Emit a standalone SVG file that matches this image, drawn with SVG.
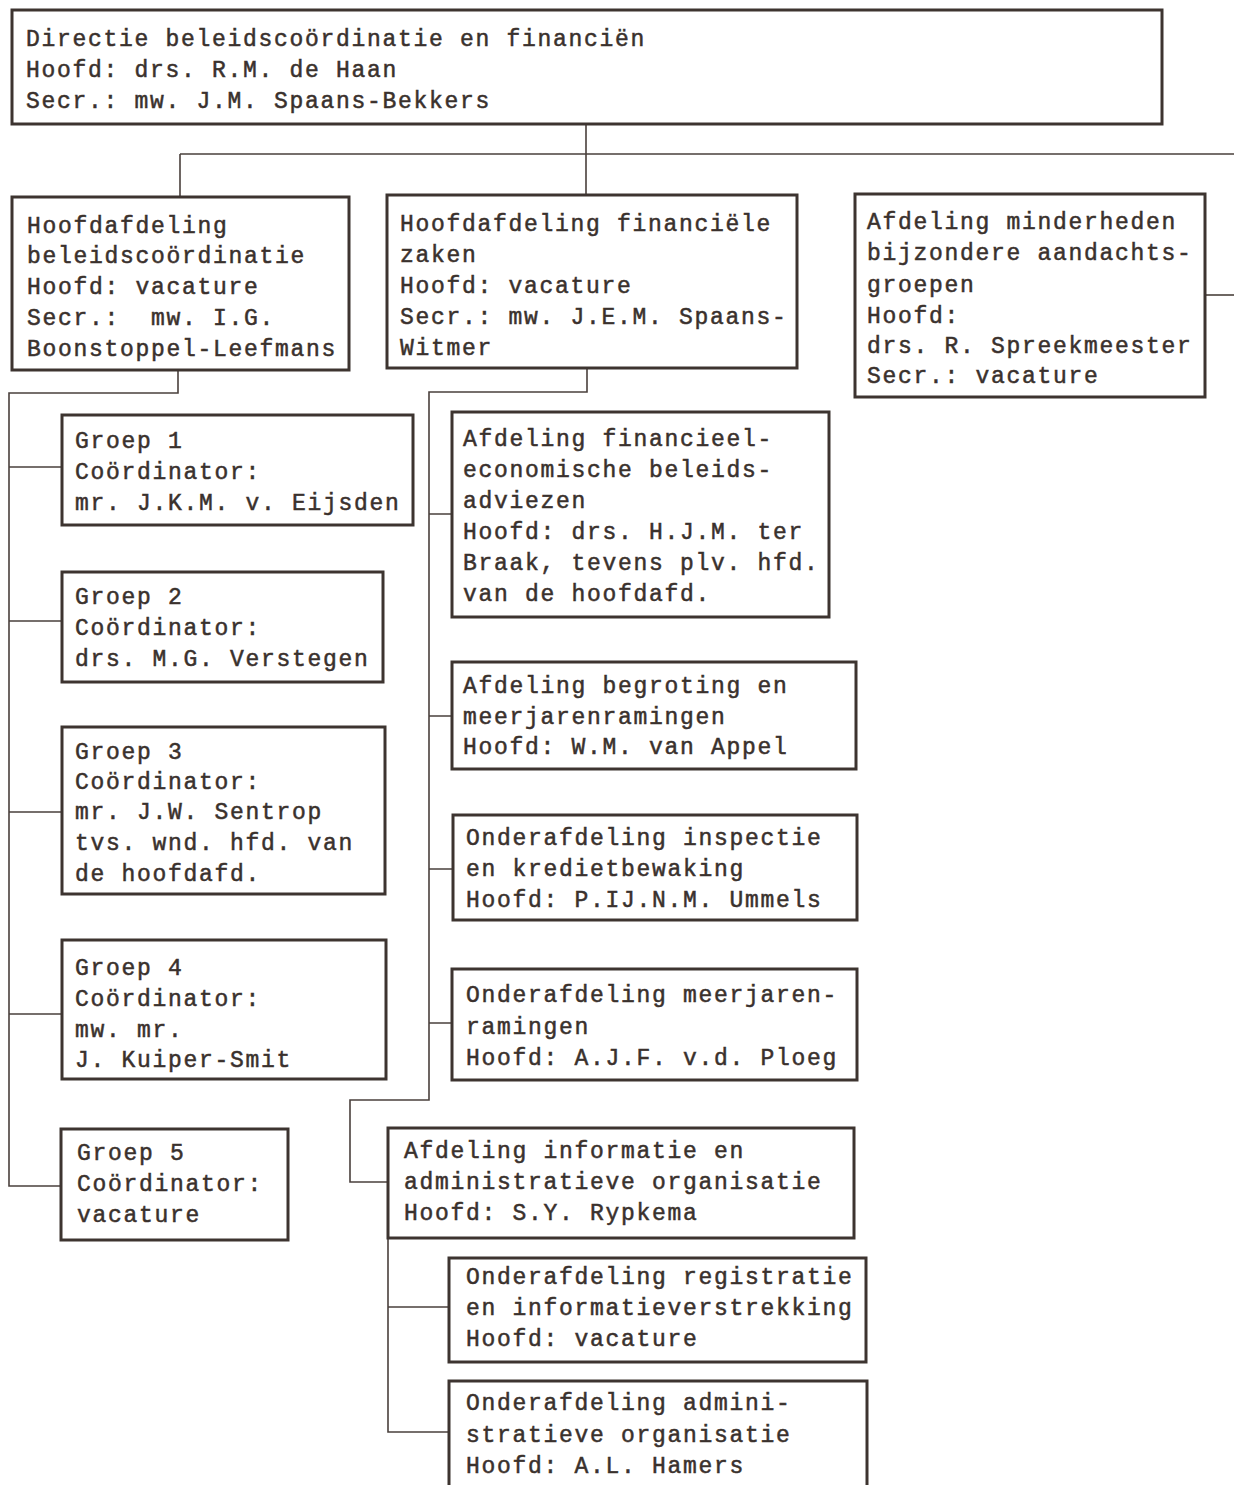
<svg xmlns="http://www.w3.org/2000/svg" width="1234" height="1485" viewBox="0 0 1234 1485">
<style>
.box{fill:#fff;stroke:#3d3430;stroke-width:3}
.t{font-family:"Liberation Mono","Courier New",monospace;font-size:23px;letter-spacing:1.7px;fill:#3a312d;stroke:#3a312d;stroke-width:0.5;white-space:pre}
.c{fill:none;stroke:#4a403c;stroke-width:1.6}
</style>
<rect width="1234" height="1485" fill="#fff"/>
<g id="connectors">
<path class="c" d="M586 124 V195 M180 154 H1234 M180 154 V197"/>
<path class="c" d="M1205 295 H1234"/>
<path class="c" d="M178 370 V393 H9 V1186 H61 M9 467 H62 M9 621 H62 M9 812 H62 M9 1014 H62"/>
<path class="c" d="M587 368 V392 H429 V1100 H350 V1182 H388 M429 514 H452 M429 716 H452 M429 869 H453 M429 1023 H452"/>
<path class="c" d="M388 1238 V1432 H449 M388 1307 H449"/>
</g>
<g id="directie">
<rect class="box" x="12" y="10" width="1150" height="114"/>
<text class="t"><tspan x="26" y="46">Directie beleidscoördinatie en financiën</tspan><tspan x="26" y="77">Hoofd: drs. R.M. de Haan</tspan><tspan x="26" y="108">Secr.: mw. J.M. Spaans-Bekkers</tspan></text>
</g>
<g id="hoofdafd-beleid">
<rect class="box" x="12" y="197" width="337" height="173"/>
<text class="t"><tspan x="27" y="233">Hoofdafdeling</tspan><tspan x="27" y="263">beleidscoördinatie</tspan><tspan x="27" y="294">Hoofd: vacature</tspan><tspan x="27" y="325">Secr.:  mw. I.G.</tspan><tspan x="27" y="356">Boonstoppel-Leefmans</tspan></text>
</g>
<g id="hoofdafd-fin">
<rect class="box" x="387" y="195" width="410" height="173"/>
<text class="t"><tspan x="400" y="231">Hoofdafdeling financiële</tspan><tspan x="400" y="262">zaken</tspan><tspan x="400" y="293">Hoofd: vacature</tspan><tspan x="400" y="324">Secr.: mw. J.E.M. Spaans-</tspan><tspan x="400" y="355">Witmer</tspan></text>
</g>
<g id="afd-minderheden">
<rect class="box" x="855" y="194" width="350" height="203"/>
<text class="t"><tspan x="867" y="229">Afdeling minderheden</tspan><tspan x="867" y="260">bijzondere aandachts-</tspan><tspan x="867" y="292">groepen</tspan><tspan x="867" y="323">Hoofd:</tspan><tspan x="867" y="353">drs. R. Spreekmeester</tspan><tspan x="867" y="383">Secr.: vacature</tspan></text>
</g>
<g id="groep1">
<rect class="box" x="62" y="415" width="351" height="110"/>
<text class="t"><tspan x="75" y="448">Groep 1</tspan><tspan x="75" y="479">Coördinator:</tspan><tspan x="75" y="510">mr. J.K.M. v. Eijsden</tspan></text>
</g>
<g id="groep2">
<rect class="box" x="62" y="572" width="321" height="110"/>
<text class="t"><tspan x="75" y="604">Groep 2</tspan><tspan x="75" y="635">Coördinator:</tspan><tspan x="75" y="666">drs. M.G. Verstegen</tspan></text>
</g>
<g id="groep3">
<rect class="box" x="62" y="727" width="323" height="167"/>
<text class="t"><tspan x="75" y="759">Groep 3</tspan><tspan x="75" y="789">Coördinator:</tspan><tspan x="75" y="819">mr. J.W. Sentrop</tspan><tspan x="75" y="850">tvs. wnd. hfd. van</tspan><tspan x="75" y="881">de hoofdafd.</tspan></text>
</g>
<g id="groep4">
<rect class="box" x="62" y="940" width="324" height="139"/>
<text class="t"><tspan x="75" y="975">Groep 4</tspan><tspan x="75" y="1006">Coördinator:</tspan><tspan x="75" y="1037">mw. mr.</tspan><tspan x="75" y="1067">J. Kuiper-Smit</tspan></text>
</g>
<g id="groep5">
<rect class="box" x="61" y="1129" width="227" height="111"/>
<text class="t"><tspan x="77" y="1160">Groep 5</tspan><tspan x="77" y="1191">Coördinator:</tspan><tspan x="77" y="1222">vacature</tspan></text>
</g>
<g id="afd-fin-econ">
<rect class="box" x="452" y="412" width="377" height="205"/>
<text class="t"><tspan x="463" y="446">Afdeling financieel-</tspan><tspan x="463" y="477">economische beleids-</tspan><tspan x="463" y="508">adviezen</tspan><tspan x="463" y="539">Hoofd: drs. H.J.M. ter</tspan><tspan x="463" y="570">Braak, tevens plv. hfd.</tspan><tspan x="463" y="601">van de hoofdafd.</tspan></text>
</g>
<g id="afd-begroting">
<rect class="box" x="452" y="662" width="404" height="107"/>
<text class="t"><tspan x="463" y="693">Afdeling begroting en</tspan><tspan x="463" y="724">meerjarenramingen</tspan><tspan x="463" y="754">Hoofd: W.M. van Appel</tspan></text>
</g>
<g id="onderafd-inspectie">
<rect class="box" x="453" y="815" width="404" height="105"/>
<text class="t"><tspan x="466" y="845">Onderafdeling inspectie</tspan><tspan x="466" y="876">en kredietbewaking</tspan><tspan x="466" y="907">Hoofd: P.IJ.N.M. Ummels</tspan></text>
</g>
<g id="onderafd-meerjaren">
<rect class="box" x="452" y="969" width="405" height="111"/>
<text class="t"><tspan x="466" y="1002">Onderafdeling meerjaren-</tspan><tspan x="466" y="1034">ramingen</tspan><tspan x="466" y="1065">Hoofd: A.J.F. v.d. Ploeg</tspan></text>
</g>
<g id="afd-informatie">
<rect class="box" x="388" y="1128" width="466" height="110"/>
<text class="t"><tspan x="404" y="1158">Afdeling informatie en</tspan><tspan x="404" y="1189">administratieve organisatie</tspan><tspan x="404" y="1220">Hoofd: S.Y. Rypkema</tspan></text>
</g>
<g id="onderafd-registratie">
<rect class="box" x="449" y="1258" width="417" height="104"/>
<text class="t"><tspan x="466" y="1284">Onderafdeling registratie</tspan><tspan x="466" y="1315">en informatieverstrekking</tspan><tspan x="466" y="1346">Hoofd: vacature</tspan></text>
</g>
<g id="onderafd-admin">
<rect class="box" x="449" y="1381" width="418" height="112"/>
<text class="t"><tspan x="466" y="1410">Onderafdeling admini-</tspan><tspan x="466" y="1442">stratieve organisatie</tspan><tspan x="466" y="1473">Hoofd: A.L. Hamers</tspan></text>
</g>
</svg>
